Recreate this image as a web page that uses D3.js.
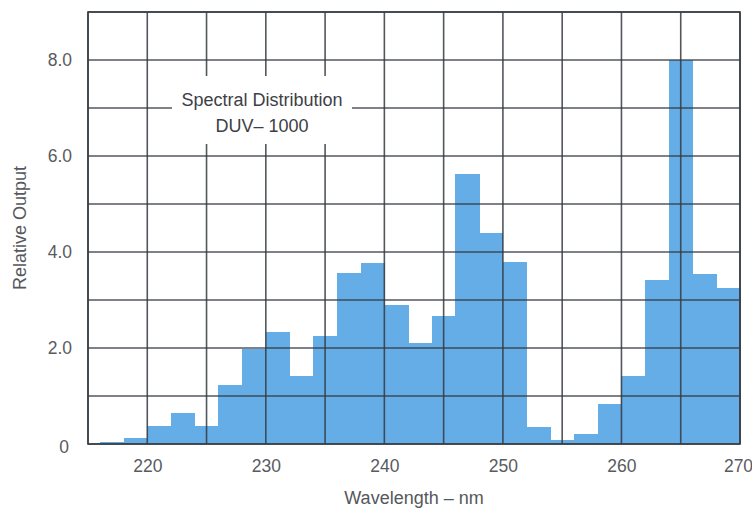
<!DOCTYPE html>
<html lang="en">
<head>
    <meta charset="UTF-8">
    <title>Spectral Distribution DUV-1000</title>
    <script src="https://cdn.jsdelivr.net/npm/d3@7"></script>
    <style>
        body{
            margin: 0;
            background: #ffffff;
        }
        .barras{
            fill: #65ade7;
            shape-rendering: crispEdges;
        }
        .rejilla line{
            stroke: #34393f;
            stroke-width: 1.6;
            stroke-opacity: 0.85;
        }
        .marco{
            fill: none;
            stroke: #3a3f44;
            stroke-width: 1.6;
        }
        .ticks{
            font-family: 'Liberation Sans', Arial, sans-serif;
            font-size: 17.5px;
            fill: #595b5f;
        }
        .titulos{
            font-family: 'Liberation Sans', Arial, sans-serif;
            font-size: 18px;
            fill: #55585c;
        }
        .caja{
            fill: #ffffff;
        }
        .leyenda{
            font-family: 'Liberation Sans', Arial, sans-serif;
            font-size: 18px;
            fill: #3c4046;
        }
    </style>
</head>
<body>
<div id="grafico"></div>

<script>

// bin start (nm), each bin is 2 nm wide
var wavelengths = [216, 218, 220, 222, 224, 226, 228, 230, 232, 234, 236, 238, 240, 242,
                   244, 246, 248, 250, 252, 254, 256, 258, 260, 262, 264, 266, 268];
var output = [0.05, 0.13, 0.37, 0.65, 0.37, 1.22, 1.97, 2.33, 1.41, 2.25, 3.56, 3.77, 2.9, 2.1,
              2.66, 5.63, 4.4, 3.8, 0.35, 0.08, 0.21, 0.84, 1.42, 3.42, 8.0, 3.54, 3.26];
var binWidth = 2;

var xTicks = [220, 230, 240, 250, 260, 270];
var yTicks = [0, 2, 4, 6, 8];
var xGrid = d3.range(215, 271, 5);
var yGrid = d3.range(0, 10, 1);

var w = 752;
var h = 509;
var margen = {top: 12, right: 12, bottom: 65, left: 88};

var xScale = d3.scaleLinear()
    .domain([215, 270])
    .range([margen.left, w - margen.right]);

var yScale = d3.scaleLinear()
    .domain([0, 9])
    .range([h - margen.bottom, margen.top]);

var grafico = d3.select("#grafico")
    .append("svg")
    .attr("width", w)
    .attr("height", h);

var barras = grafico.selectAll(".barras")
    .data(output)
    .enter()
    .append("rect")
    .classed("barras", true)
    .attr("x", function(d, i){
        return xScale(wavelengths[i]);
    })
    .attr("width", function(d, i){
        return xScale(wavelengths[i] + binWidth) - xScale(wavelengths[i]) + 0.5;
    })
    .attr("y", function(d){
        return yScale(d);
    })
    .attr("height", function(d){
        return yScale(0) - yScale(d);
    });

var rejilla = grafico.append("g").classed("rejilla", true);

rejilla.selectAll(".v")
    .data(xGrid)
    .enter()
    .append("line")
    .attr("x1", function(d){ return xScale(d); })
    .attr("x2", function(d){ return xScale(d); })
    .attr("y1", yScale(0))
    .attr("y2", yScale(9));

rejilla.selectAll(".h")
    .data(yGrid)
    .enter()
    .append("line")
    .attr("x1", xScale(215))
    .attr("x2", xScale(270))
    .attr("y1", function(d){ return yScale(d); })
    .attr("y2", function(d){ return yScale(d); });

var marco = grafico.append("rect")
    .classed("marco", true)
    .attr("x", xScale(215))
    .attr("y", yScale(9))
    .attr("width", xScale(270) - xScale(215))
    .attr("height", yScale(0) - yScale(9));

// axis labels
var xAxis = d3.axisBottom(xScale)
    .tickValues(xTicks)
    .tickSize(0)
    .tickPadding(16)
    .tickFormat(d3.format("d"));

var gx = grafico.append("g")
    .attr("transform", "translate(0," + yScale(0) + ")")
    .call(xAxis);
gx.select(".domain").remove();
gx.selectAll("text").attr("class", "ticks").attr("fill", null);
// last label sits against the right edge
gx.selectAll(".tick").filter(function(d){ return d === 270; })
    .select("text").attr("x", -2);

var yAxis = d3.axisLeft(yScale)
    .tickValues(yTicks)
    .tickSize(0)
    .tickPadding(16)
    .tickFormat(function(d){ return d === 0 ? "0" : d3.format(".1f")(d); });

var gy = grafico.append("g")
    .attr("transform", "translate(" + xScale(215) + ",0)")
    .call(yAxis);
gy.select(".domain").remove();
gy.selectAll("text").attr("class", "ticks").attr("fill", null);
gy.selectAll(".tick").filter(function(d){ return d === 0; })
    .select("text").attr("x", -19).attr("dy", "0.5em");

grafico.append("text")
    .classed("titulos", true)
    .text("Wavelength \u2013 nm")
    .attr("x", (xScale(215) + xScale(270)) / 2)
    .attr("y", h - 5)
    .attr("text-anchor", "middle");

grafico.append("text")
    .classed("titulos", true)
    .text("Relative Output")
    .attr("transform", "translate(26," + (yScale(0) + yScale(9)) / 2 + ") rotate(-90)")
    .attr("text-anchor", "middle");

// label box over the grid
var caja = grafico.append("rect")
    .classed("caja", true)
    .attr("x", 172)
    .attr("y", 76)
    .attr("width", 180)
    .attr("height", 68);

grafico.append("text")
    .classed("leyenda", true)
    .text("Spectral Distribution")
    .attr("x", 262)
    .attr("y", 106)
    .attr("text-anchor", "middle");

grafico.append("text")
    .classed("leyenda", true)
    .text("DUV\u2013 1000")
    .attr("x", 262)
    .attr("y", 132)
    .attr("text-anchor", "middle");

</script>
</body>
</html>
